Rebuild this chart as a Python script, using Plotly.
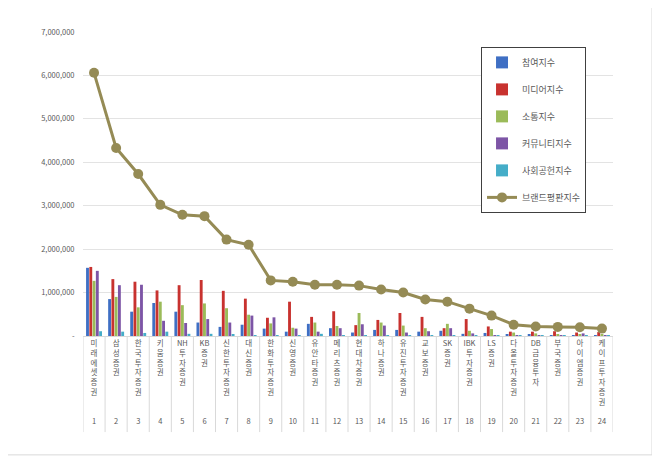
import plotly.graph_objects as go

# securities firms, ranked 1..24
firms = ["미래에셋증권", "삼성증권", "한국투자증권", "키움증권", "NH투자증권", "KB증권",
         "신한투자증권", "대신증권", "한화투자증권", "신영증권", "유안타증권", "메리츠증권",
         "현대차증권", "하나증권", "유진투자증권", "교보증권", "SK증권", "IBK투자증권",
         "LS증권", "다올투자증권", "DB금융투자", "부국증권", "아이엠증권", "케이프투자증권"]
ranks = list(range(1, 25))

participation = [1570000, 850000, 560000, 760000, 560000, 310000, 210000, 260000, 170000, 100000,
                 280000, 180000, 80000, 140000, 140000, 100000, 120000, 50000, 70000, 30000,
                 30000, 20000, 20000, 20000]
media = [1590000, 1310000, 1250000, 1050000, 1170000, 1290000, 1040000, 860000, 420000, 790000,
         440000, 570000, 250000, 370000, 530000, 440000, 180000, 390000, 220000, 100000,
         100000, 110000, 80000, 90000]
communication = [1270000, 900000, 660000, 790000, 710000, 750000, 640000, 490000, 290000, 190000,
                 310000, 230000, 530000, 310000, 240000, 180000, 280000, 120000, 160000, 80000,
                 60000, 40000, 30000, 30000]
community = [1500000, 1170000, 1180000, 350000, 300000, 390000, 310000, 470000, 430000, 170000,
             100000, 180000, 270000, 240000, 80000, 110000, 180000, 60000, 20000, 20000,
             10000, 20000, 60000, 20000]
social = [110000, 100000, 70000, 100000, 50000, 50000, 30000, 20000, 20000, 20000,
          50000, 20000, 20000, 20000, 20000, 20000, 20000, 20000, 20000, 20000,
          20000, 20000, 20000, 20000]
brand = [6060000, 4330000, 3730000, 3020000, 2790000, 2760000, 2220000, 2100000, 1280000, 1250000,
         1180000, 1180000, 1160000, 1070000, 1000000, 840000, 790000, 630000, 470000, 260000,
         220000, 210000, 200000, 170000]

y_ticks = [0, 1000000, 2000000, 3000000, 4000000, 5000000, 6000000, 7000000]
y_labels = ["-"] + [f"{v:,}" for v in y_ticks[1:]]

FONT = "Noto Sans CJK KR"
GREY = "#595959"


def stack_label(name, rank, lines=8):
    # korean chars stacked one per line, latin prefix kept together
    parts = []
    buf = ""
    for ch in name:
        if ch.isascii():
            buf += ch
        else:
            if buf:
                parts.append(buf)
                buf = ""
            parts.append(ch)
    if buf:
        parts.append(buf)
    parts += [" "] * (lines - len(parts))
    return "<br>".join(parts + [str(rank)])


bar_series = [
    ("참여지수", participation, "#3F6FC4"),
    ("미디어지수", media, "#C8322F"),
    ("소통지수", communication, "#9BBB59"),
    ("커뮤니티지수", community, "#7D55A6"),
    ("사회공헌지수", social, "#45ADC8"),
]

fig = go.Figure()
for name, vals, col in bar_series:
    fig.add_trace(go.Bar(x=ranks, y=vals, name=name, marker=dict(color=col, line_width=0),
                         legendgroup=name))

fig.add_trace(go.Scatter(x=ranks, y=brand, name="브랜드평판지수", mode="lines+markers",
                         line=dict(color="#958B55", width=3),
                         marker=dict(size=10, color="#958B55"), legendgroup="brand"))

# category separators under the axis + outer frame
shapes = []
for i in range(25):
    shapes.append(dict(type="line", xref="x", yref="paper", x0=i + 0.5, x1=i + 0.5,
                       y0=0, y1=-0.316, line=dict(color="#D9D9D9", width=1)))
shapes.append(dict(type="rect", xref="paper", yref="paper", x0=-0.143, x1=1.0736,
                   y0=-0.391, y1=1.082, line=dict(color="#D9D9D9", width=1)))

# page body adds an 8px offset, so the figure is a bit smaller than the window
fig.update_layout(
    width=652, height=455,
    margin=dict(l=75, r=47, t=24, b=127),
    paper_bgcolor="white", plot_bgcolor="white",
    font=dict(family=FONT, size=7.5, color=GREY),
    barmode="group", bargap=0.26, bargroupgap=0.12,
    showlegend=True,
    legend=dict(x=0.751, y=0.951, xanchor="left", yanchor="top",
                bgcolor="white", bordercolor="#404040", borderwidth=1,
                font=dict(size=9, color=GREY), tracegroupgap=8,
                itemwidth=30, entrywidth=80),
    shapes=shapes,
)
fig.update_xaxes(
    range=[0.5, 24.5], tickmode="array", tickvals=ranks,
    ticktext=[stack_label(n, r) for n, r in zip(firms, ranks)],
    tickangle=0, showgrid=False, ticks="", showline=True, linecolor="#D9D9D9",
    tickfont=dict(size=7.5, color=GREY), automargin=False,
)
fig.update_yaxes(
    range=[0, 7000000], tickmode="array", tickvals=y_ticks, ticktext=y_labels,
    showgrid=True, gridcolor="#E3E3E3", zeroline=False, showline=False,
    tickfont=dict(size=7.5, color=GREY), ticklen=6, ticks="outside", tickcolor="white",
    automargin=False,
)

fig.write_html("out.html")
